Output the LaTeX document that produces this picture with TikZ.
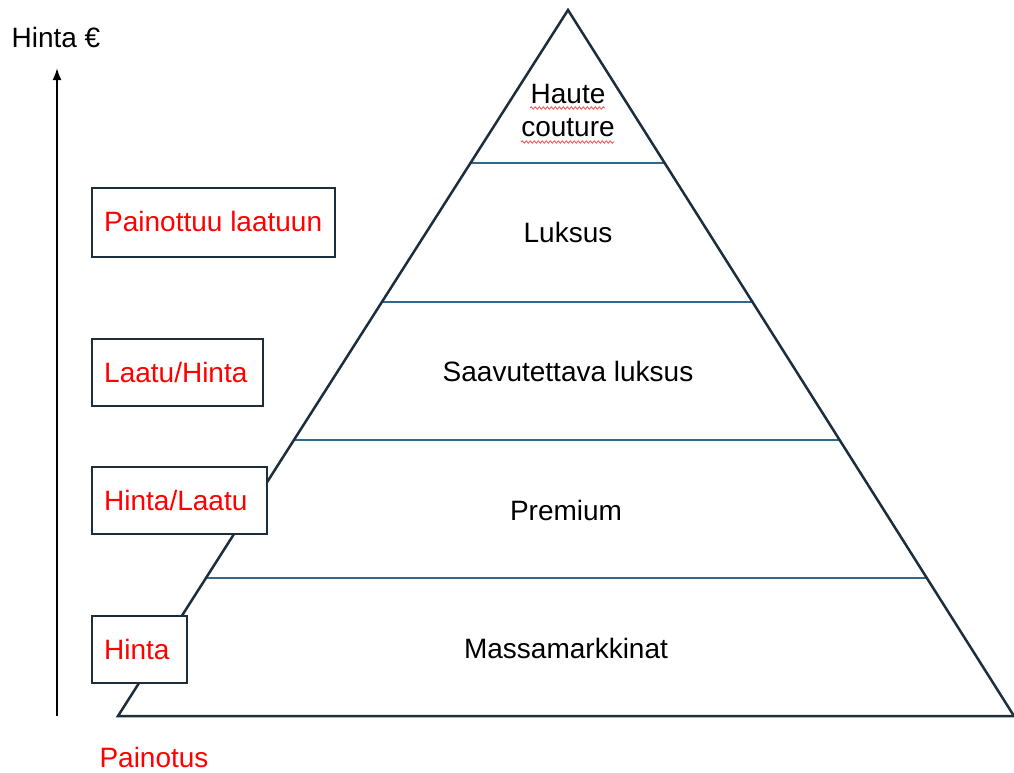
\documentclass[tikz,border=0pt]{standalone}
\usepackage{fontspec}
\setmainfont{Liberation Sans}
\usetikzlibrary{calc,decorations.pathmorphing,arrows.meta}
\definecolor{outl}{HTML}{1C2E3C}
\definecolor{divc}{HTML}{2F6A8C}
\definecolor{redt}{HTML}{FF0000}
\tikzset{
  lab/.style={font=\fontsize{28}{32}\selectfont, text=black, align=center, inner sep=0pt},
  redlab/.style={font=\fontsize{28}{32}\selectfont, text=redt, inner sep=0pt, anchor=west},
  boxn/.style={draw=outl, line width=2pt, fill=white, inner sep=0pt},
  divline/.style={draw=divc, line width=2pt},
  squig/.style={draw=red!70, line width=0.8pt, decorate, decoration={snake, amplitude=1.2pt, segment length=4pt}}
}
\begin{document}
\begin{tikzpicture}[x=1pt,y=-1pt]
\useasboundingbox (0,0) rectangle (1014,772);
\coordinate (apex) at (568,10);
\coordinate (bl) at (118,716);
\coordinate (br) at (1014,716);
% dividers
\foreach \t [count=\i] in {0.2167,0.4136,0.6091,0.8045}{
  \coordinate (l\i) at ($(apex)!\t!(bl)$);
  \coordinate (r\i) at ($(apex)!\t!(br)$);
  \draw[divline] (l\i) -- (r\i);
}
\draw[outl, line width=2.5pt, line join=miter] (apex) -- (bl) -- (br) -- cycle;
% pyramid labels
\node[lab] (hc1) at (568,94) {Haute};
\node[lab] (hc2) at (568,128) {couture};
\node[lab] (lu) at (568,232) {Luksus};
\node[lab] (sl) at (568,371) {Saavutettava luksus};
\node[lab] (pr) at (566,510) {Premium};
\node[lab] (mm) at (566,648) {Massamarkkinat};
\draw[squig] (530,108) -- (605,108);
\draw[squig] (521,142) -- (614,142);
% boxes
\node[boxn, minimum width=243pt, minimum height=69pt, anchor=north west] (b1) at (91,187) {};
\node[boxn, minimum width=171pt, minimum height=67pt, anchor=north west] (b2) at (91,338) {};
\node[boxn, minimum width=175pt, minimum height=67pt, anchor=north west] (b3) at (91,466) {};
\node[boxn, minimum width=95pt, minimum height=67pt, anchor=north west] (b4) at (91,615) {};
\node[redlab] (t1) at (104,221) {Painottuu laatuun};
\node[redlab] (t2) at (104,372) {Laatu/Hinta};
\node[redlab] (t3) at (104,500) {Hinta/Laatu};
\node[redlab] (t4) at (104,649) {Hinta};
% axis
\coordinate (a0) at (57,716);
\coordinate (a1) at (57,68);
\draw[line width=2pt, -{Latex[length=12pt,width=9pt]}] (a0) -- (a1);
\node[font=\fontsize{28}{32}\selectfont, inner sep=0pt] (hin) at (56,37) {Hinta €};
\node[font=\fontsize{28}{32}\selectfont, text=redt, inner sep=0pt] (pain) at (154,757) {Painotus};
\end{tikzpicture}
\end{document}
